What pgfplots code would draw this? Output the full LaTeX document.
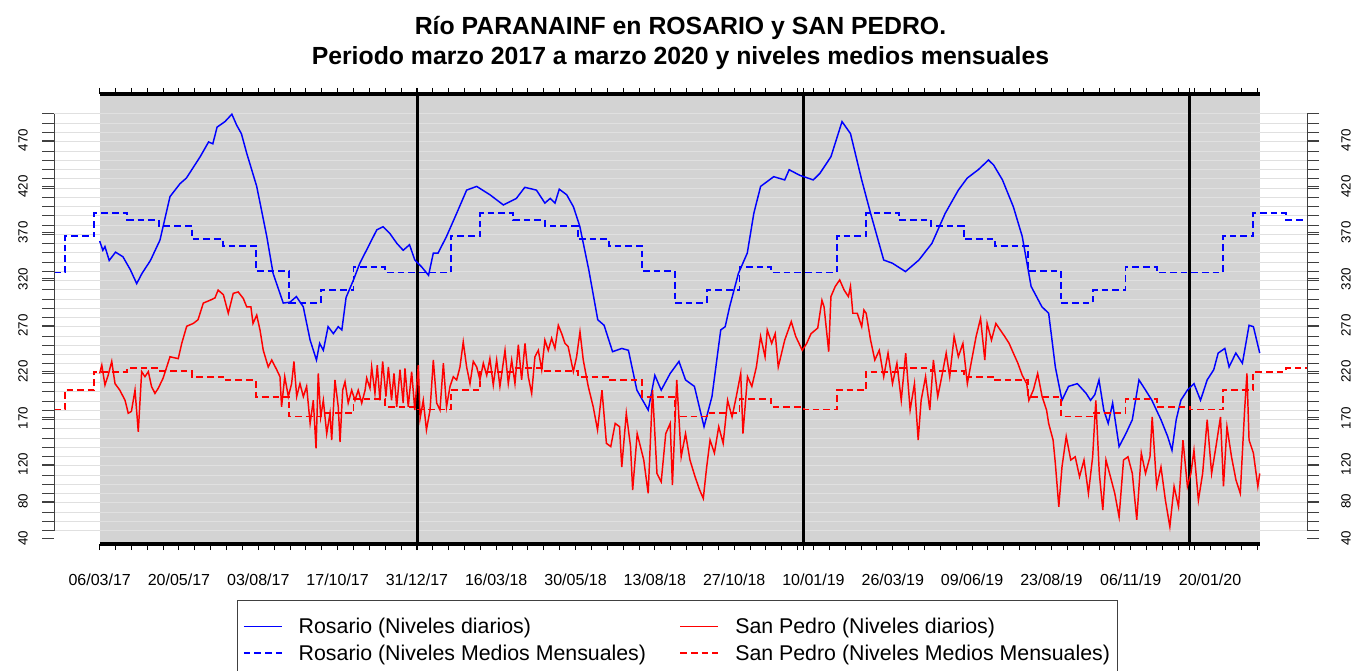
\documentclass[border=0pt]{standalone}
\usepackage{fontspec}
\setmainfont{Liberation Sans}
\usepackage{pgfplots}
\pgfplotsset{compat=1.18}
\definecolor{bgray}{RGB}{211,211,211}
\definecolor{gridc}{RGB}{224,224,224}
\definecolor{tickc}{RGB}{64,64,64}
\definecolor{rblue}{RGB}{0,0,255}
\definecolor{rred}{RGB}{255,0,0}
\begin{document}
\begin{tikzpicture}
% grey plotting region (drawn first, below the grid)
\fill[fill=bgray] (34.5pt,0pt) rectangle (904.5pt,337.5pt);
\begin{axis}[
  at={(0pt,0pt)}, anchor=south west,
  scale only axis, width=939.75pt, height=337.5pt,
  xmin=-38.2, xmax=1146.7, ymin=33.8, ymax=519.8,
  clip=false,
  axis line style={draw=none},
  /pgf/number format/assume math mode=true,
  tick align=outside,
  xtick={5,20,...,1100}, xtick pos=both,
  xticklabels={06/03/17,{},{},{},{},20/05/17,{},{},{},{},03/08/17,{},{},{},{},17/10/17,{},{},{},{},31/12/17,{},{},{},{},16/03/18,{},{},{},{},30/05/18,{},{},{},{},13/08/18,{},{},{},{},27/10/18,{},{},{},{},10/01/19,{},{},{},{},26/03/19,{},{},{},{},09/06/19,{},{},{},{},23/08/19,{},{},{},{},06/11/19,{},{},{},{},20/01/20,{},{},{}},
  xtick style={draw=black, line width=0.75pt, /pgfplots/major tick length=4.5pt},
  xticklabel style={font=\fontsize{12}{14}\selectfont, yshift=-14.5pt},
  ytick={48.2,58.2,...,500},
  yticklabels={},
  ytick pos=both,
  ytick style={draw=tickc, line width=0.75pt, /pgfplots/major tick length=9pt},
  ymajorgrids,
  y grid style={draw=gridc, line width=0.75pt},
  extra y ticks={40,80,120,170,220,270,320,370,420,470},
  extra y tick labels={40,80,120,170,220,270,320,370,420,470},
  extra y tick style={grid=none, tick style={draw=none}},
  yticklabel style={rotate=90, anchor=center, font=\fontsize{10}{12}\selectfont, yshift=19pt},
  extra x ticks={306,671,1036},
  extra x tick labels={},
  extra x tick style={grid=major, major grid style={draw=black, line width=2.25pt}, tick style={draw=none}},
  title={Río PARANAINF en ROSARIO y SAN PEDRO.\\Periodo marzo 2017 a marzo 2020 y niveles medios mensuales},
  title style={at={(0.5,1.0956)}, anchor=center, align=center, font=\bfseries\fontsize{18.6}{22.5}\selectfont},
  legend columns=2,
  legend style={at={(0.14605,-0.1244)}, anchor=north west, draw=tickc, line width=0.75pt,
    font=\fontsize{16}{19}\selectfont, inner xsep=4pt, inner ysep=11pt, row sep=3pt,
    /tikz/every odd column/.append style={column sep=10pt},
    /tikz/every even column/.append style={column sep=23pt}, cells={anchor=west}},
]

% Rosario daily
\addplot[draw=rblue, line width=1.1pt,
  legend image code/.code={\draw[draw=rblue, line width=1.1pt] (0pt,0pt) -- (28.5pt,0pt);}] coordinates {
(5,361) (8,351) (10,355) (14,340) (20,349) (27,344) (34,330) (40,315) (45,326) (53,340) (62,362) (71.5,409) (81,423) (87,429) (100,452) (108,468) (112,466) (116,484) (123.5,490) (130,498) (134.6,486) (139,477) (144,456) (153.5,420) (163,366) (169,326) (178.6,294) (185,295) (191,301) (197.5,290) (204,254) (210,232.5) (213,250.5) (216.5,243) (221,268.5) (226,261) (230.6,268.5) (234,265) (238,300) (245,319) (251,337) (260.6,358.5) (267,373) (273,376.5) (279.5,369) (286,358.5) (292,351) (298,357) (303,340.5) (309.5,333) (316,324) (320.5,348) (325,348) (333,366) (342.6,391) (352,416) (361.5,420) (374,411) (386.7,400) (399,407) (407,419) (418,416) (426,402) (431,407) (435.6,402) (439.6,417) (446.6,411) (453,398) (459,377) (467.5,330) (476,276) (482,270) (490,241.5) (498.7,245) (505,243) (513,200) (523.7,178.5) (530,216) (536,200) (544.5,218) (552.8,231) (559,211) (567.4,204) (576.5,160.5) (584,193) (592.3,265) (596.5,268.5) (600.7,290) (609,326) (617.4,348) (623.6,391) (630,420) (642.4,430.5) (652.8,427) (657,438) (667,432) (679.8,427) (686,434) (696.5,452) (707,490) (715,477) (725.6,427) (734,391) (746.4,340.5) (754.7,337) (767,328) (779.7,340.5) (792,358.5) (804.6,391) (817,416) (825.4,429) (835.8,438) (845.5,448.5) (850.4,443) (858.7,427) (869,398) (877.4,366) (885.8,312) (896,290) (902.4,283) (908.7,225) (915,189) (921.2,204) (929.5,207) (937.8,196.5) (942,189) (946,195) (950,211) (954.5,178.5) (958.7,164) (962.9,186) (969,139) (975.4,153) (981.5,168) (987.8,211) (994,200) (1000,189) (1008.6,168) (1014.9,150) (1019,135) (1023,168) (1027.4,189) (1033.6,200) (1039.8,207) (1046,189) (1052.3,211) (1058.5,222) (1062.7,240) (1069,245) (1073,225) (1079.4,240) (1085.6,229) (1091.9,270) (1096,268.5) (1102,240)
};
\addlegendentry{Rosario (Niveles diarios)}

% San Pedro daily
\addplot[draw=rred, line width=1.1pt,
  legend image code/.code={\draw[draw=rred, line width=1.1pt] (0pt,0pt) -- (28.5pt,0pt);}] coordinates {
(5,218) (7,227) (10,205.5) (13,216) (16.4,231) (19.5,207) (24,200) (29,189) (32,175) (35,177) (38.4,200) (41.5,155) (44.7,220) (47.8,214.5) (51,220) (54,204) (57.3,196.5) (60.4,202) (65,213) (71.5,236) (79.3,234) (82.6,250.5) (87.3,269) (93.5,272) (98,276) (103,294) (109.3,297) (114,299.5) (117,308) (122,303) (126.6,283) (131.3,304.5) (136,306) (140.8,299) (144,290) (148,290) (150,272) (153.5,281) (156.6,265) (159.7,243) (164.4,225) (167.7,232.5) (172.4,222) (175.5,214.5) (177,182) (180,214.5) (183.4,193) (186.5,207) (188.7,231) (191.3,193) (194.4,207) (197.6,193) (200.7,204) (204,164) (207,189) (209.6,137) (211.7,218) (214,171) (216.5,189) (219.7,153) (222.8,175) (224.4,146) (227.5,211) (230.6,182) (232.3,144) (234.8,200) (237,209) (240,186) (243.3,200) (246.4,189) (249.5,200) (252.8,186) (256,200) (257.5,213) (260.6,202) (262.2,225) (265.3,196.5) (267.5,227) (270,189) (272.6,231) (275.7,193) (278,225) (281,189) (283.3,218) (285.9,182) (289,222) (292,186) (293.7,223.5) (296.8,182) (300,220) (303,178.5) (306.3,227) (308,169.5) (311,189) (314,157) (317.4,178.5) (320.5,232.5) (323.7,186) (326.8,178.5) (330,229) (333,182) (336.3,204) (339.4,214.5) (342.6,211) (345.7,225) (348.8,252) (352,225) (355.2,207) (358.3,231) (361.5,225) (364.6,211) (367.8,229) (371,216) (374,234) (377.2,205.5) (380.4,232.5) (383.5,204) (388.3,243) (391.4,207) (394.6,232.5) (397.7,207) (400.9,249) (404,211) (407.2,250.5) (410.3,214.5) (413.5,196.5) (416.6,236) (419.8,243) (423,222) (426,254) (429.2,243) (432.4,256) (435.5,245) (438.7,270) (441.9,261) (445,250.5) (448,247) (451.3,229) (452.9,220) (456,236) (459.2,263) (462.3,232.5) (467,204) (471.7,182) (475.8,157) (480,200) (484.2,142.5) (488.3,139) (492.5,164) (496.6,160.5) (498.7,117) (503,175) (507,139) (509,92) (513.3,153) (519.5,124.5) (523.7,88.5) (527.8,200) (532,110) (536,101) (540.3,153) (544.5,164) (546.6,97.5) (550.7,211) (554.9,128) (559,153) (563.2,124.5) (568,106.5) (572.4,92) (575.8,83) (579,117) (582.2,146) (586.3,132) (590.4,160.5) (594.6,142.5) (598.8,189) (603,171) (607,193) (611.2,218) (613.3,153) (617.6,214.5) (621.7,204) (626,225) (630,258) (634.2,236) (636.3,265) (640.5,250.5) (643.8,261) (646.7,225) (652.8,254) (659,274) (663.2,258) (669.4,243) (673.6,250.5) (677.7,261) (684,267) (688,297) (690,290) (694.4,241.5) (696.5,301) (700.6,312) (704.8,319) (709,308) (713,301) (715,312) (717.2,283) (721.4,283) (725.6,268.5) (727.7,286.5) (729.8,283) (734,254) (738,232.5) (742.2,243) (746.4,214.5) (750.5,240) (754.7,207) (758.9,229) (763,189) (767.2,240) (771.4,178.5) (775.5,207) (779,146) (781.8,189) (786,214.5) (790,178.5) (793.4,232.5) (797.5,193) (801.3,214.5) (805.5,240) (808.8,214.5) (813,258) (817,236) (821.3,250.5) (825.5,207) (829.6,232.5) (833.8,258) (838,277.5) (842,232.5) (844.2,272) (848.3,254) (852.5,272) (856.6,265) (860.8,258) (865,250.5) (869,240) (873.3,229) (877.4,216) (881.6,207) (883.7,189) (887.9,200) (892,218) (896.2,193) (900.4,178.5) (902.4,164) (906.6,146) (908.7,121) (912,74) (915,117) (919,150) (923.3,124.5) (927.5,128) (931.6,106.5) (935.8,124.5) (940,88.5) (944,128) (947,189) (950.3,110) (953.6,70.5) (956.6,124.5) (960.8,106.5) (964.9,88.5) (969,63) (973.2,124.5) (977.4,128) (981.5,110) (985.7,60) (990,132) (994,110) (998.2,128) (1000.3,171) (1004.5,96) (1008.6,117) (1012.8,81) (1017,52.5) (1021,96) (1025.2,74) (1029.4,146) (1033.6,96) (1036.9,110) (1039.8,135) (1044,81) (1048,110) (1052.3,168) (1056.5,110) (1060.6,139) (1064.9,171) (1067.7,96) (1071,160.5) (1075.3,128) (1079.5,103) (1083.6,88.5) (1087.7,178.5) (1089.9,218) (1091.9,146) (1096,132) (1100.2,96) (1102,110)
};
\addlegendentry{San Pedro (Niveles diarios)}

% Rosario monthly means
\addplot[draw=rblue, line width=1.4pt, dash pattern=on 5pt off 3pt, const plot,
  legend image code/.code={\draw[draw=rblue, line width=1.4pt, dash pattern=on 5pt off 3pt] (0pt,0pt) -- (28.5pt,0pt);}] coordinates {
(-38.2,327) (-28,366) (0,391) (31,384) (61,377.5) (92,363) (122,355.5) (153,328.5) (184,294) (214,308) (245,332.5) (275,327)
(306,327) (337,366) (365,391) (396,384) (426,377.5) (457,363) (487,355.5) (518,328.5) (549,294) (579,308) (610,332.5) (640,327)
(671,327) (702,366) (730,391) (761,384) (791,377.5) (822,363) (852,355.5) (883,328.5) (914,294) (944,308) (975,332.5) (1005,327)
(1036,327) (1067,366) (1096,391) (1127,384) (1146.7,384)
};
\addlegendentry{Rosario (Niveles Medios Mensuales)}

% San Pedro monthly means
\addplot[draw=rred, line width=1.4pt, dash pattern=on 5pt off 3pt, const plot,
  legend image code/.code={\draw[draw=rred, line width=1.4pt, dash pattern=on 5pt off 3pt] (0pt,0pt) -- (28.5pt,0pt);}] coordinates {
(-38.2,179) (-28,200) (0,220) (31,223.5) (61,220.5) (92,214.5) (122,210.5) (153,193) (184,171.5) (214,175) (245,190) (275,182)
(306,179) (337,200) (365,220) (396,223.5) (426,220.5) (457,214.5) (487,210.5) (518,193) (549,171.5) (579,175) (610,190) (640,182)
(671,179) (702,200) (730,220) (761,223.5) (791,220.5) (822,214.5) (852,210.5) (883,193) (914,171.5) (944,175) (975,190) (1005,182)
(1036,179) (1067,200) (1096,220) (1127,223.5) (1146.7,223.5)
};
\addlegendentry{San Pedro (Niveles Medios Mensuales)}

\draw[draw=black, line width=3pt] (axis cs:5.3,33.8) -- (axis cs:1102.2,33.8);
\draw[draw=black, line width=3pt] (axis cs:5.3,519.8) -- (axis cs:1102.2,519.8);
\draw[draw=tickc, line width=0.75pt] (axis cs:-38.2,48.2) -- (axis cs:-38.2,498.2);
\draw[draw=tickc, line width=0.75pt] (axis cs:1146.7,48.2) -- (axis cs:1146.7,498.2);
\end{axis}

% right-hand tick labels (axis shifted so the labels sit beyond the right ticks)
\begin{axis}[
  at={(20.25pt,0pt)}, anchor=south west,
  scale only axis, width=939.75pt, height=337.5pt,
  xmin=-38.2, xmax=1146.7, ymin=33.8, ymax=519.8,
  axis line style={draw=none},
  /pgf/number format/assume math mode=true,
  xtick=\empty,
  ytick={40,80,120,170,220,270,320,370,420,470},
  yticklabels={40,80,120,170,220,270,320,370,420,470},
  yticklabel pos=right,
  tick align=outside,
  tick style={draw=none},
  major tick length=9pt,
  yticklabel style={rotate=90, anchor=center, font=\fontsize{10}{12}\selectfont},
]
\end{axis}
\pgfresetboundingbox
\useasboundingbox (-40.5pt,-95.25pt) rectangle (977.25pt,408pt);
\end{tikzpicture}
\end{document}
